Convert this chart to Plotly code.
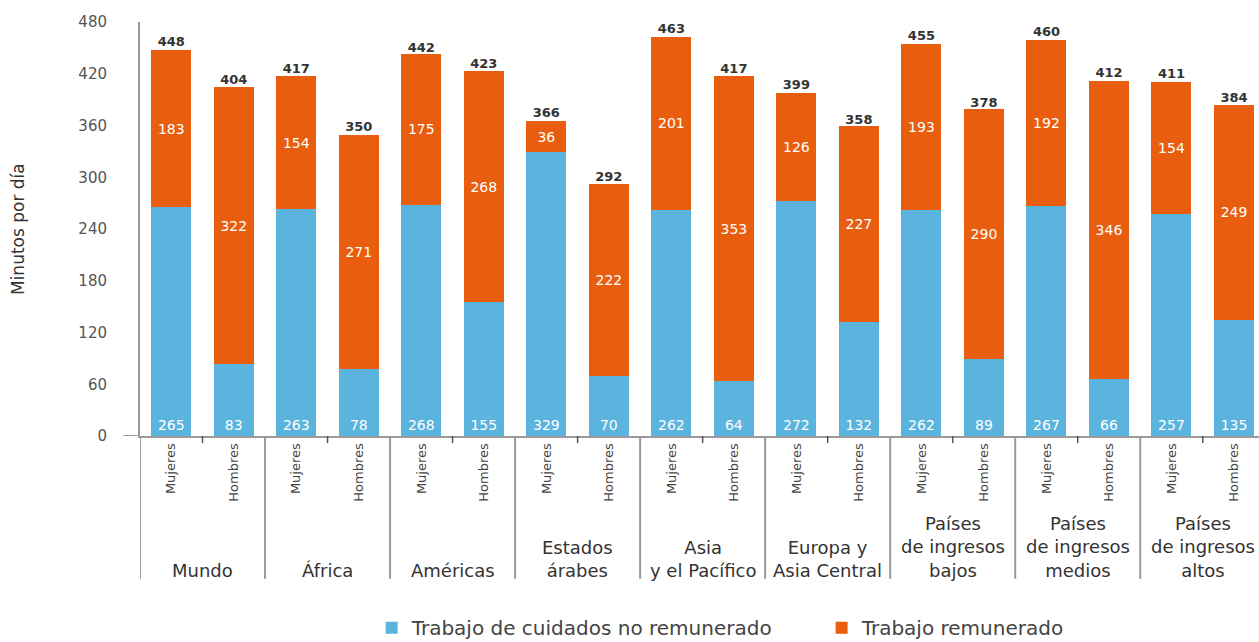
import plotly.graph_objects as go

# ----------------------------------------
# data (minutos por día)
# ----------------------------------------
grupos = ["Mundo", "África", "Américas", "Estados<br>árabes", "Asia<br>y el Pacífico",
          "Europa y<br>Asia Central", "Países<br>de ingresos<br>bajos",
          "Países<br>de ingresos<br>medios", "Países<br>de ingresos<br>altos"]
sexos = ["Mujeres", "Hombres"]

cuidados = [265, 83, 263, 78, 268, 155, 329, 70, 262, 64, 272, 132, 262, 89, 267, 66, 257, 135]
remunerado = [183, 322, 154, 271, 175, 268, 36, 222, 201, 353, 126, 227, 193, 290, 192, 346, 154, 249]
totales = [448, 404, 417, 350, 442, 423, 366, 292, 463, 417, 399, 358, 455, 378, 460, 412, 411, 384]

y_ticks = [0, 60, 120, 180, 240, 300, 360, 420, 480]

AZUL = "#5AB4DD"
NARANJA = "#E85E0E"
GRIS = "#999999"
FONT = "DejaVu Sans, Liberation Sans, Arial, sans-serif"

# posiciones x: un indice por barra
xs = list(range(len(cuidados)))
sub_labels = [sexos[i % 2] for i in xs]

fig = go.Figure()

fig.add_trace(go.Bar(
    x=xs, y=cuidados,
    name="Trabajo de cuidados no remunerado",
    marker=dict(color=AZUL, line=dict(width=0)),
    text=cuidados, textposition="inside", insidetextanchor="start",
    textfont=dict(color="white", size=14, family=FONT),
    textangle=0,
))
fig.add_trace(go.Bar(
    x=xs, y=remunerado,
    name="Trabajo remunerado",
    marker=dict(color=NARANJA, line=dict(width=0)),
    text=remunerado, textposition="inside", insidetextanchor="middle",
    textfont=dict(color="white", size=14, family=FONT),
    textangle=0,
))
# totales encima de cada barra
fig.add_trace(go.Scatter(
    x=xs, y=totales, mode="text",
    text=totales, textposition="top center",
    textfont=dict(color="#333333", size=13, family=FONT, weight="bold"),
    showlegend=False, hoverinfo="skip",
))

# ----------------------------------------
# separadores, marcas y etiquetas de grupo
# ----------------------------------------
shapes = []
annotations = []
for g, nombre in enumerate(grupos):
    left = 2 * g - 0.5
    shapes.append(dict(type="line", xref="x", yref="paper",
                       x0=left, x1=left, y0=0, y1=-0.345,
                       line=dict(color=GRIS, width=2)))
    mid = 2 * g + 0.5
    shapes.append(dict(type="line", xref="x", yref="paper",
                       x0=mid, x1=mid, y0=0, y1=-0.017,
                       line=dict(color="#555555", width=1.5)))
    annotations.append(dict(text=nombre, xref="x", yref="paper",
                            x=mid, y=-0.355, yanchor="bottom", showarrow=False,
                            font=dict(size=18, color="#333333", family=FONT)))

# prolongacion del eje x a la izquierda
shapes.append(dict(type="line", xref="paper", yref="y",
                   x0=-0.015, x1=0, y0=0, y1=0,
                   line=dict(color=GRIS, width=2)))

annotations.append(dict(text="Minutos por día", xref="paper", yref="paper",
                        x=-0.109, y=0.5, textangle=-90, showarrow=False,
                        xanchor="center", yanchor="middle",
                        font=dict(size=17, color="#333333", family=FONT)))

fig.update_layout(
    width=1259, height=642,
    barmode="stack", bargap=0.36,
    plot_bgcolor="white", paper_bgcolor="white",
    margin=dict(l=140, r=0, t=22, b=206, autoexpand=False),
    font=dict(family=FONT, color="#444444"),
    shapes=shapes, annotations=annotations,
    legend=dict(orientation="h", x=0.207, xanchor="left", y=-0.463, yanchor="middle",
                font=dict(size=20, color="#444444"), traceorder="normal",
                itemwidth=30, entrywidth=405),
    xaxis=dict(
        range=[-0.5, 17.4], tickvals=xs, ticktext=sub_labels,
        tickangle=-90, tickfont=dict(size=13, color="#444444"),
        showline=True, linecolor=GRIS, linewidth=2,
        showgrid=False, zeroline=False, ticks="", fixedrange=True,
    ),
    yaxis=dict(
        range=[0, 480], tickvals=y_ticks,
        tickfont=dict(size=15, color="#555555"),
        showline=True, linecolor=GRIS, linewidth=2,
        showgrid=False, zeroline=False, ticks="",
        ticklabelstandoff=28,
    ),
)

fig.write_html("out.html", config={"displayModeBar": False},
               post_script="document.body.style.margin='0';")
